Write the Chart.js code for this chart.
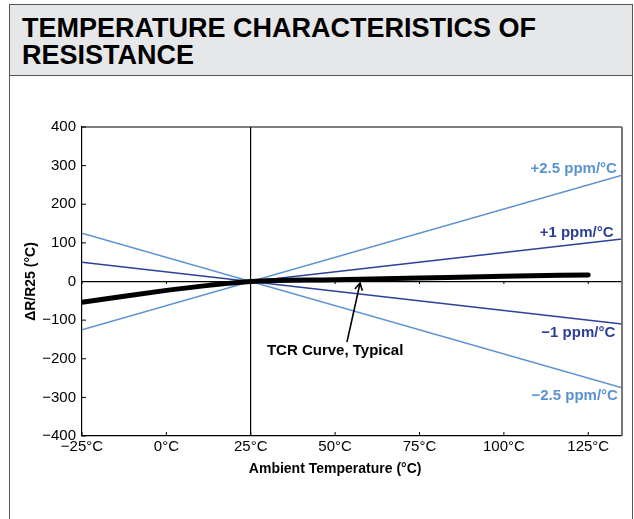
<!DOCTYPE html>
<html>
<head>
<meta charset="utf-8">
<script src="https://cdn.jsdelivr.net/npm/chart.js@4/dist/chart.umd.min.js"></script>
<style>
  html, body { margin: 0; padding: 0; background: #fff; }
  body { width: 634px; height: 519px; position: relative; overflow: hidden;
         font-family: 'Liberation Sans', Arial, Helvetica, sans-serif; }
  .frame { position: absolute; left: 9px; top: 4px; width: 622px; height: 530px;
           border: 1.5px solid #555; border-bottom: none; }
  .head { position: absolute; left: 9px; top: 4px; width: 622px; height: 70px;
          background: #e6e7e8; border: 1.5px solid #555; }
  .head h1 { margin: 0; position: absolute; left: 12px; top: 10px;
             font-size: 27px; line-height: 27px; font-weight: bold; color: #000; }
  #wrap { position: absolute; left: 0; top: 0; width: 634px; height: 519px; }
</style>
</head>
<body>
<div class="frame"></div>
<div class="head"><h1>TEMPERATURE CHARACTERISTICS OF<br>RESISTANCE</h1></div>
<div id="wrap"><canvas id="chart"></canvas></div>
<script>
  // temperature axis (°C) and deviation axis
  var xTicks = [-25, 0, 25, 50, 75, 100, 125];
  var yTicks = [-400, -300, -200, -100, 0, 100, 200, 300, 400];

  // straight TCR limit lines, from -25°C to 135°C
  var limitTemps = [-25, 135];
  var plus25 = [-125, 275];
  var plus1 = [-50, 110];
  var minus1 = [50, -110];
  var minus25 = [125, -275];

  // typical curve
  var tcrTemps = [-25, -12.5, 0, 12.5, 25, 50, 75, 100, 125];
  var tcrValues = [-54, -38, -23, -10, 0, 4.5, 9, 13.5, 17];

  var lightBlue = '#5b93d1';
  var darkBlue = '#2e3f98';
  var fontFam = "'Liberation Sans', Arial, Helvetica, sans-serif";

  function pts(xs, ys) {
    return xs.map(function (x, i) { return {x: x, y: ys[i]}; });
  }
  function minus(v) {
    return v < 0 ? '\u2212' + Math.abs(v) : '' + v;
  }

  // text labels placed in data units
  var notes = [
    {text: '+2.5 ppm/\u00b0C', x: 133.5, y: 291, color: lightBlue, align: 'right'},
    {text: '+1 ppm/\u00b0C', x: 132.5, y: 126, color: darkBlue, align: 'right'},
    {text: '\u22121 ppm/\u00b0C', x: 133, y: -133, color: darkBlue, align: 'right'},
    {text: '\u22122.5 ppm/\u00b0C', x: 133.8, y: -296, color: lightBlue, align: 'right'},
    {text: 'TCR Curve, Typical', x: 29.8, y: -180, color: '#000', align: 'left'}
  ];
  var arrow = {from: [53.5, -157], to: [57.4, -4]};

  var extras = {
    id: 'extras',
    afterDraw: function (chart) {
      var ctx = chart.ctx, a = chart.chartArea;
      var xs = chart.scales.x, ys = chart.scales.y;
      ctx.save();
      // top and right edges of the plot box
      ctx.strokeStyle = '#000';
      ctx.lineWidth = 1.2;
      ctx.beginPath();
      ctx.moveTo(a.left, a.top); ctx.lineTo(a.right, a.top);
      ctx.stroke();
      ctx.strokeStyle = '#777';
      ctx.lineWidth = 2;
      ctx.beginPath();
      ctx.moveTo(a.right, a.top); ctx.lineTo(a.right, a.bottom);
      ctx.stroke();
      // inward tick marks
      ctx.strokeStyle = '#000';
      ctx.lineWidth = 1;
      ctx.beginPath();
      xTicks.forEach(function (t) {
        var px = xs.getPixelForValue(t);
        ctx.moveTo(px, a.bottom); ctx.lineTo(px, a.bottom - 4);
        var z = ys.getPixelForValue(0);
        ctx.moveTo(px, z); ctx.lineTo(px, z + 2.5);
      });
      yTicks.forEach(function (t) {
        var py = ys.getPixelForValue(t);
        ctx.moveTo(a.left, py); ctx.lineTo(a.left + 4, py);
      });
      ctx.stroke();
      // notes
      ctx.font = 'bold 15px ' + fontFam;
      ctx.textBaseline = 'middle';
      notes.forEach(function (n) {
        ctx.fillStyle = n.color;
        ctx.textAlign = n.align;
        ctx.fillText(n.text, xs.getPixelForValue(n.x), ys.getPixelForValue(n.y));
      });
      // arrow
      var x0 = xs.getPixelForValue(arrow.from[0]), y0 = ys.getPixelForValue(arrow.from[1]);
      var x1 = xs.getPixelForValue(arrow.to[0]), y1 = ys.getPixelForValue(arrow.to[1]);
      var ang = Math.atan2(y1 - y0, x1 - x0);
      ctx.strokeStyle = '#000';
      ctx.lineWidth = 1.6;
      ctx.beginPath();
      ctx.moveTo(x0, y0); ctx.lineTo(x1, y1);
      ctx.moveTo(x1 - 8 * Math.cos(ang - 0.5), y1 - 8 * Math.sin(ang - 0.5));
      ctx.lineTo(x1, y1);
      ctx.lineTo(x1 - 8 * Math.cos(ang + 0.5), y1 - 8 * Math.sin(ang + 0.5));
      ctx.stroke();
      // x axis title, centred on the 50°C tick
      ctx.fillStyle = '#000';
      ctx.textAlign = 'center';
      ctx.font = 'bold 14px ' + fontFam;
      ctx.fillText('Ambient Temperature (\u00b0C)', xs.getPixelForValue(50), 469);
      ctx.restore();
    }
  };

  var ctx = document.getElementById('chart').getContext('2d');
  window.tcrChart = new Chart(ctx, {
    type: 'line',
    data: {
      datasets: [
        {data: pts(tcrTemps, tcrValues), borderColor: '#000', borderWidth: 5,
         cubicInterpolationMode: 'monotone', borderCapStyle: 'round'},
        {data: pts(limitTemps, plus1), borderColor: darkBlue, borderWidth: 1.5},
        {data: pts(limitTemps, minus1), borderColor: darkBlue, borderWidth: 1.5},
        {data: pts(limitTemps, plus25), borderColor: lightBlue, borderWidth: 1.5},
        {data: pts(limitTemps, minus25), borderColor: lightBlue, borderWidth: 1.5}
      ]
    },
    options: {
      responsive: true,
      maintainAspectRatio: false,
      animation: false,
      events: [],
      elements: {point: {radius: 0}},
      layout: {padding: {top: 127, right: 12, left: 0, bottom: 0}},
      plugins: {legend: {display: false}, tooltip: {enabled: false}},
      scales: {
        x: {
          type: 'linear', min: -25, max: 135,
          afterBuildTicks: function (s) { s.ticks = xTicks.map(function (v) { return {value: v}; }); },
          afterFit: function (s) { s.height = 83; },
          grid: {drawTicks: false, lineWidth: 1.2,
                 color: function (c) { return c.tick && c.tick.value === 25 ? '#000' : 'rgba(0,0,0,0)'; }},
          border: {color: '#000', width: 1.2},
          ticks: {padding: 2, color: '#000', maxRotation: 0,
                  font: {family: fontFam, size: 15},
                  callback: function (v) { return minus(v) + '\u00b0C'; }}
        },
        y: {
          min: -400, max: 400,
          afterBuildTicks: function (s) { s.ticks = yTicks.map(function (v) { return {value: v}; }); },
          afterFit: function (s) { s.width = 82; },
          grid: {drawTicks: false, lineWidth: 1.2,
                 color: function (c) { return c.tick && c.tick.value === 0 ? '#000' : 'rgba(0,0,0,0)'; }},
          border: {color: '#000', width: 1.2},
          ticks: {padding: 6, color: '#000', font: {family: fontFam, size: 15},
                  callback: function (v) { return minus(v); }},
          title: {display: true, text: '\u0394R/R25 (\u00b0C)', color: '#000',
                  font: {family: fontFam, size: 14, weight: 'bold'},
                  padding: {top: 23, bottom: 0}}
        }
      }
    },
    plugins: [extras]
  });
</script>
</body>
</html>
